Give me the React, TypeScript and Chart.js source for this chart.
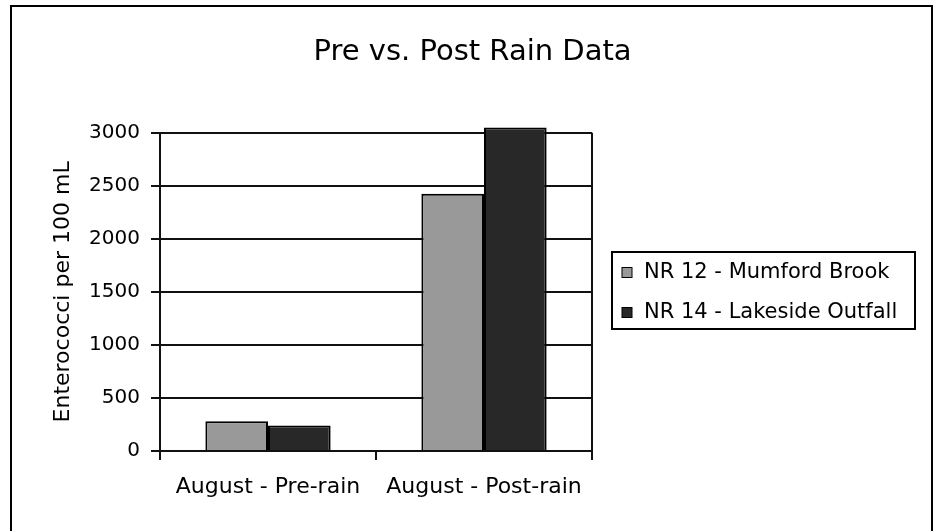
import React, { useEffect, useRef } from "react";
import { Chart, registerables } from "chart.js";

Chart.register(...registerables);

const categories = ["August - Pre-rain", "August - Post-rain"];
const seriesNames = ["NR 12 - Mumford Brook", "NR 14 - Lakeside Outfall"];
const mumfordBrook = [280, 2425];
const lakesideOutfall = [240, 3050];
const seriesColors = ["#999999", "#282828"];
const yTickValues = [0, 500, 1000, 1500, 2000, 2500, 3000];
const chartTitle = "Pre vs. Post Rain Data";
const yAxisTitle = "Enterococci per 100 mL";

const FONT = "'DejaVu Sans', sans-serif";

const legendBoxPlugin = {
  id: "legendBox",
  afterDraw(chart: any) {
    const ctx = chart.ctx;
    const ca = chart.chartArea;
    const x0 = ca.right + 20;
    const y0 = 252;
    const w = 303;
    const h = 77;
    ctx.save();
    ctx.strokeStyle = "#000";
    ctx.lineWidth = 2;
    ctx.strokeRect(x0, y0, w, h);
    ctx.font = `21px ${FONT}`;
    ctx.textBaseline = "middle";
    ctx.textAlign = "left";
    chart.data.datasets.forEach((ds: any, i: number) => {
      const cy = y0 + 20.5 + i * 40;
      ctx.fillStyle = ds.backgroundColor;
      ctx.fillRect(x0 + 10, cy - 5, 10, 10);
      ctx.lineWidth = 1;
      ctx.strokeStyle = "#000";
      ctx.strokeRect(x0 + 10, cy - 5, 10, 10);
      ctx.fillStyle = "#000";
      ctx.fillText(ds.label, x0 + 32, cy);
    });
    ctx.restore();
  },
};

export default function App() {
  const ref = useRef<HTMLCanvasElement>(null);
  useEffect(() => {
    if (!ref.current) return;
    const chart = new Chart(ref.current, {
      type: "bar",
      data: {
        labels: categories,
        datasets: [
          {
            label: seriesNames[0],
            data: mumfordBrook,
            backgroundColor: seriesColors[0],
            borderColor: "#000",
            borderWidth: 2,
            clip: false as any,
          },
          {
            label: seriesNames[1],
            data: lakesideOutfall,
            backgroundColor: seriesColors[1],
            borderColor: "#000",
            borderWidth: 2,
            clip: false as any,
          },
        ],
      },
      options: {
        responsive: false,
        animation: false,
        layout: { padding: { left: 11, right: 0, top: 0, bottom: 0 } },
        datasets: { bar: { categoryPercentage: 0.58, barPercentage: 1 } },
        plugins: {
          legend: { display: false },
          tooltip: { enabled: false },
          title: {
            display: true,
            text: chartTitle,
            color: "#000",
            font: { family: FONT, size: 29, weight: "normal" },
            padding: { top: 35, bottom: 63 },
          },
        },
        scales: {
          x: {
            grid: {
              color: (c: any) => (c.index === 1 ? "rgba(0,0,0,0)" : "#111"),
              tickColor: "#111",
              lineWidth: 2,
              tickLength: 9,
            },
            border: { display: true, color: "#111", width: 2 },
            ticks: {
              color: "#000",
              font: { family: FONT, size: 22 },
              padding: 14,
              maxRotation: 0,
            },
            afterFit: (s: any) => {
              s.height = 80;
            },
          },
          y: {
            min: 0,
            max: 3000,
            afterBuildTicks: (s: any) => {
              s.ticks = yTickValues.map((v) => ({ value: v }));
            },
            grid: { color: "#111", lineWidth: 2, tickLength: 9 },
            border: { display: true, color: "#111", width: 2 },
            ticks: {
              color: "#000",
              font: { family: FONT, size: 20 },
              padding: 11,
              callback: (v: any) => String(v),
            },
            title: {
              display: true,
              text: yAxisTitle,
              color: "#000",
              font: { family: FONT, size: 22 },
              padding: { top: 39, bottom: 0 },
            },
            afterFit: (s: any) => {
              s.width = 149;
            },
          },
          yRight: {
            position: "right",
            display: true,
            grid: { display: false },
            border: { display: false },
            ticks: { display: false },
            afterFit: (s: any) => {
              s.width = 342;
            },
          },
        },
      },
      plugins: [legendBoxPlugin],
    });
    return () => chart.destroy();
  }, []);
  return (
    <div
      style={{
        position: "absolute",
        left: 0,
        top: 0,
        width: 934,
        height: 531,
        overflow: "hidden",
        background: "#fff",
      }}
    >
      <canvas ref={ref} width={934} height={531} style={{ display: "block" }} />
      <div
        style={{
          position: "absolute",
          left: 10,
          top: 5,
          width: 923,
          height: 560,
          border: "2px solid #000",
          boxSizing: "border-box",
          pointerEvents: "none",
        }}
      />
    </div>
  );
}
